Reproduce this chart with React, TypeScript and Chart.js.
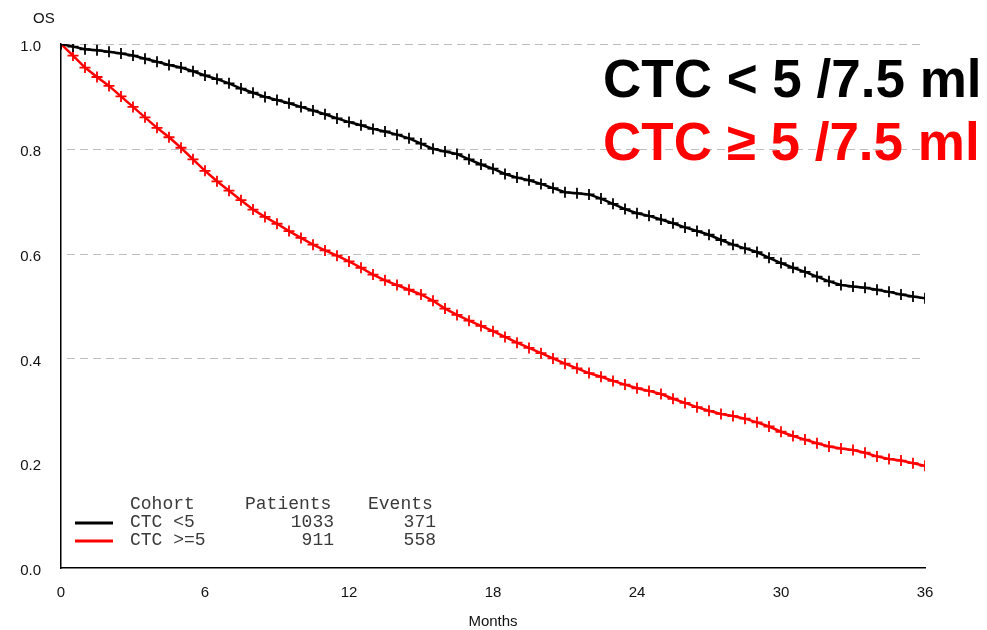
import React, { useEffect, useRef } from "react";
import { Chart, registerables } from "chart.js";

Chart.register(...registerables);

const months = [0, 0.5, 1, 1.5, 2, 2.5, 3, 3.5, 4, 4.5, 5, 5.5, 6, 6.5, 7, 7.5, 8, 8.5, 9, 9.5, 10, 10.5, 11, 11.5, 12, 12.5, 13, 13.5, 14, 14.5, 15, 15.5, 16, 16.5, 17, 17.5, 18, 18.5, 19, 19.5, 20, 20.5, 21, 21.5, 22, 22.5, 23, 23.5, 24, 24.5, 25, 25.5, 26, 26.5, 27, 27.5, 28, 28.5, 29, 29.5, 30, 30.5, 31, 31.5, 32, 32.5, 33, 33.5, 34, 34.5, 35, 35.5, 36];
const survLow = [1.0, 0.995, 0.99, 0.988, 0.985, 0.982, 0.978, 0.972, 0.966, 0.96, 0.955, 0.948, 0.94, 0.933, 0.925, 0.915, 0.907, 0.899, 0.893, 0.887, 0.88, 0.873, 0.866, 0.858, 0.851, 0.845, 0.838, 0.833, 0.827, 0.82, 0.81, 0.8, 0.795, 0.79, 0.78, 0.77, 0.762, 0.752, 0.745, 0.74, 0.733, 0.725, 0.717, 0.715, 0.713, 0.705, 0.695, 0.685, 0.677, 0.672, 0.665, 0.658, 0.65, 0.643, 0.636, 0.626, 0.617, 0.61, 0.603, 0.592, 0.582, 0.573, 0.565, 0.556, 0.547, 0.54, 0.537, 0.535, 0.531, 0.527, 0.522, 0.518, 0.515];
const survHigh = [1.0, 0.978, 0.955, 0.937, 0.92, 0.9, 0.88, 0.86, 0.84, 0.822, 0.802, 0.78, 0.758, 0.738, 0.72, 0.702, 0.684, 0.67, 0.657, 0.643, 0.63, 0.617, 0.606, 0.596, 0.585, 0.573, 0.56, 0.549, 0.54, 0.531, 0.522, 0.51, 0.495, 0.483, 0.472, 0.462, 0.452, 0.441, 0.43, 0.42, 0.41, 0.4, 0.39, 0.381, 0.372, 0.365, 0.357, 0.35, 0.343, 0.338, 0.332, 0.323, 0.315, 0.307, 0.3, 0.294, 0.29, 0.285, 0.278, 0.27, 0.26, 0.252, 0.245, 0.238, 0.232, 0.228, 0.225, 0.22, 0.213, 0.208, 0.205, 0.2, 0.195];
const xTicks = [0, 6, 12, 18, 24, 30, 36];
const yTicks = [0, 0.2, 0.4, 0.6, 0.8, 1.0];
const gridValues = [0.4, 0.6, 0.8, 1.0];
const cohorts = ["CTC <5", "CTC >=5"];
const patients = ["1033", "911"];
const events = ["371", "558"];
const colors = ["#000000", "#ff0000"];
const titleLines = ["CTC < 5 /7.5 ml", "CTC \u2265 5 /7.5 ml"];

export default function App() {
  const ref = useRef<HTMLCanvasElement | null>(null);

  useEffect(() => {
    document.body.style.margin = "0";
    const canvas = ref.current;
    if (!canvas) return;

    const decor = {
      id: "decor",
      beforeDatasetsDraw(chart: any) {
        const { ctx, chartArea, scales } = chart;
        const y = scales.y;
        ctx.save();
        ctx.strokeStyle = "#bdbdbd";
        ctx.lineWidth = 1;
        ctx.setLineDash([8, 5]);
        gridValues.forEach((v) => {
          const py = Math.round(y.getPixelForValue(v)) + 0.5;
          ctx.beginPath();
          ctx.moveTo(chartArea.left + 6, py);
          ctx.lineTo(chartArea.right, py);
          ctx.stroke();
        });
        ctx.restore();
      },
      afterDraw(chart: any) {
        const { ctx } = chart;
        ctx.save();
        ctx.fillStyle = "#111";
        ctx.font = "15px 'Liberation Sans', Arial, sans-serif";
        ctx.textBaseline = "middle";
        ctx.textAlign = "left";
        ctx.fillText("OS", 33, 19);
        ctx.textAlign = "center";
        ctx.fillText("Months", 493, 622);

        ctx.font = "bold 53px 'Liberation Sans', Arial, sans-serif";
        ctx.textAlign = "left";
        ctx.textBaseline = "alphabetic";
        ctx.fillStyle = colors[0];
        ctx.fillText(titleLines[0], 603, 97);
        ctx.fillStyle = colors[1];
        ctx.fillText(titleLines[1], 603, 160);

        ctx.font = "18px 'Liberation Mono', monospace";
        ctx.fillStyle = "#3a3a3a";
        ctx.textAlign = "left";
        ctx.fillText("Cohort", 130, 509);
        ctx.fillText("Patients", 245, 509);
        ctx.fillText("Events", 368, 509);
        cohorts.forEach((c, i) => {
          const by = 527 + i * 18;
          ctx.fillStyle = "#3a3a3a";
          ctx.textAlign = "left";
          ctx.fillText(c, 130, by);
          ctx.textAlign = "right";
          ctx.fillText(patients[i], 334, by);
          ctx.fillText(events[i], 436, by);
          ctx.strokeStyle = colors[i];
          ctx.lineWidth = 3;
          ctx.setLineDash([]);
          ctx.beginPath();
          ctx.moveTo(75, by - 4);
          ctx.lineTo(113, by - 4);
          ctx.stroke();
        });
        ctx.restore();
      },
    };

    const makeSet = (label: string, values: number[], color: string) => ({
      label,
      data: months.map((m, i) => ({ x: m, y: values[i] })),
      borderColor: color,
      backgroundColor: color,
      borderWidth: 2.5,
      pointStyle: "cross",
      pointRadius: 5.5,
      pointBorderWidth: 1.8,
      pointBorderColor: color,
      tension: 0,
    });

    const chart = new Chart(canvas, {
      type: "line",
      data: {
        datasets: [
          makeSet(cohorts[0], survLow, colors[0]),
          makeSet(cohorts[1], survHigh, colors[1]),
        ],
      },
      options: {
        animation: false,
        responsive: false,
        maintainAspectRatio: false,
        layout: { padding: { top: 44, right: 62, left: 0, bottom: 0 } },
        plugins: {
          legend: { display: false },
          tooltip: { enabled: false },
          title: { display: false },
        },
        scales: {
          x: {
            type: "linear",
            min: 0,
            max: 36,
            afterBuildTicks: (scale: any) => {
              scale.ticks = xTicks.map((v) => ({ value: v }));
            },
            afterFit: (scale: any) => {
              scale.height = 62;
            },
            grid: { display: false, drawTicks: false },
            border: { display: true, color: "#000", width: 1.5 },
            ticks: {
              padding: 16,
              color: "#111",
              font: { family: "'Liberation Sans', Arial, sans-serif", size: 15 },
              callback: (v: any) => String(v),
              maxRotation: 0,
            },
          },
          y: {
            type: "linear",
            min: 0,
            max: 1,
            afterBuildTicks: (scale: any) => {
              scale.ticks = yTicks.map((v) => ({ value: v }));
            },
            afterFit: (scale: any) => {
              scale.width = 61;
            },
            grid: { display: false, drawTicks: false },
            border: { display: true, color: "#000", width: 1.5 },
            ticks: {
              padding: 20,
              labelOffset: 3,
              color: "#111",
              font: { family: "'Liberation Sans', Arial, sans-serif", size: 15 },
              callback: (v: any) => Number(v).toFixed(1),
            },
          },
        },
      },
      plugins: [decor],
    });

    return () => chart.destroy();
  }, []);

  return (
    <div style={{ width: 987, height: 630, position: "relative" }}>
      <canvas ref={ref} width={987} height={630} style={{ display: "block", width: 987, height: 630 }} />
    </div>
  );
}
